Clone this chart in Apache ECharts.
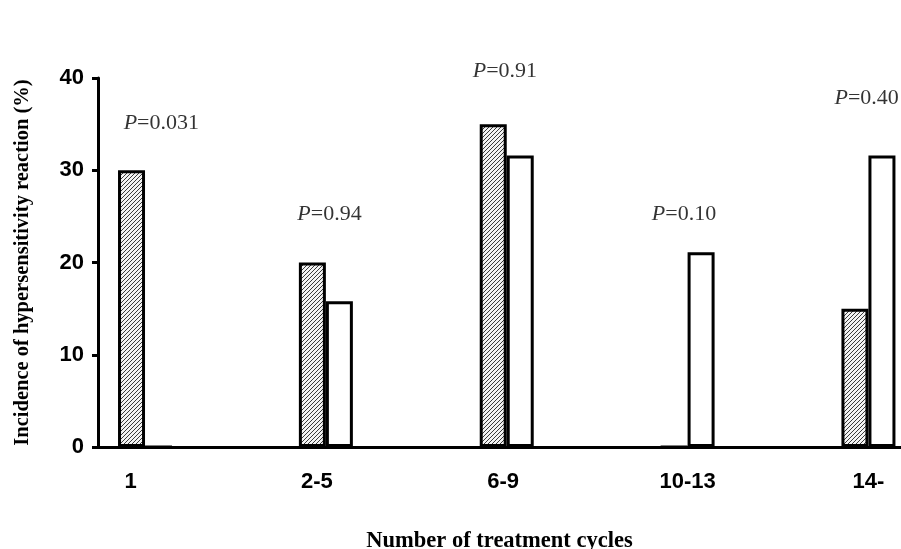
<!DOCTYPE html>
<html>
<head>
<meta charset="utf-8">
<script src="https://cdn.jsdelivr.net/npm/echarts@6/dist/echarts.min.js"></script>
<style>html,body{margin:0;padding:0;background:#fff;}#c{width:901px;height:549px;}</style>
</head>
<body>
<div id="c"></div>
<script>
var categories = ['1', '2-5', '6-9', '10-13', '14-'];
var hatchedValues = [30, 20, 35, 0, 15];
var whiteValues = [0, 15.8, 31.6, 21.1, 31.6];
var pValues = ['0.031', '0.94', '0.91', '0.10', '0.40'];
var pLabelX = [0.09, 1.02, 1.99, 2.98, 3.99];
var pLabelY = [35.1, 25.2, 40.7, 25.2, 37.8];
var xLabelPos = [-0.08, -0.05, -0.02, 0, 0];

var cv = document.createElement('canvas');
cv.width = 4; cv.height = 4;
var g = cv.getContext('2d');
g.fillStyle = '#f2f2f2'; g.fillRect(0, 0, 4, 4);
g.strokeStyle = '#3a3a3a'; g.lineWidth = 1;
g.beginPath();
g.moveTo(0, 4); g.lineTo(4, 0);
g.moveTo(-1, 1); g.lineTo(1, -1);
g.moveTo(3, 5); g.lineTo(5, 3);
g.stroke();

var chart = echarts.init(document.getElementById('c'));
chart.setOption({
  animation: false,
  grid: {left: 98, right: 0, top: 78, bottom: 102, outerBoundsMode: 'none', containLabel: false},
  xAxis: {
    type: 'value',
    min: -0.26, max: 4.18,
    splitLine: {show: false},
    axisLine: {show: true, onZero: false, lineStyle: {color: '#000', width: 3}},
    axisTick: {show: false},
    axisLabel: {
      customValues: xLabelPos.map(function (p, i) { return i + p; }),
      formatter: function (v) { return categories[Math.round(v)]; },
      margin: 24,
      color: '#000', fontSize: 22, fontWeight: 'bold', fontFamily: 'Liberation Sans'
    },
    name: 'Number of treatment cycles',
    nameLocation: 'middle',
    nameGap: 83,
    nameTextStyle: {color: '#000', fontSize: 22.5, fontWeight: 'bold', fontFamily: 'Liberation Serif', verticalAlign: 'top'}
  },
  yAxis: {
    type: 'value',
    min: 0, max: 40, interval: 10,
    splitLine: {show: false},
    axisLine: {show: true, onZero: false, lineStyle: {color: '#000', width: 3}},
    axisTick: {show: true, length: 6, lineStyle: {color: '#000', width: 3}},
    axisLabel: {color: '#000', fontSize: 22, fontWeight: 'bold', fontFamily: 'Liberation Sans', margin: 14},
    name: 'Incidence of hypersensitivity reaction (%)',
    nameLocation: 'middle',
    nameGap: 65,
    nameTextStyle: {color: '#000', fontSize: 20.5, fontWeight: 'bold', fontFamily: 'Liberation Serif'}
  },
  series: [
    {
      type: 'bar',
      barWidth: 27,
      barGap: '0%',
      data: hatchedValues.map(function (v, i) { return [i, v]; }),
      itemStyle: {color: {image: cv, repetition: 'repeat'}, borderColor: '#000', borderWidth: 3}
    },
    {
      type: 'bar',
      barWidth: 27,
      barGap: '0%',
      data: whiteValues.map(function (v, i) { return [i, v]; }),
      itemStyle: {color: '#fff', borderColor: '#000', borderWidth: 3}
    },
    {
      type: 'scatter',
      symbolSize: 0,
      clip: false,
      silent: true,
      itemStyle: {color: '#000'},
      data: pLabelX.map(function (x, i) { return [x, pLabelY[i]]; }),
      label: {
        show: true,
        position: 'inside',
        color: '#000',
        textBorderWidth: 0,
        formatter: function (p) { return '{i|P}{n|=' + pValues[p.dataIndex] + '}'; },
        rich: {
          i: {fontStyle: 'italic', fontSize: 22, fontFamily: 'Liberation Serif', color: '#000', textBorderWidth: 0},
          n: {fontSize: 22, fontFamily: 'Liberation Serif', color: '#000', textBorderWidth: 0}
        }
      }
    }
  ]
});
</script>
</body>
</html>
